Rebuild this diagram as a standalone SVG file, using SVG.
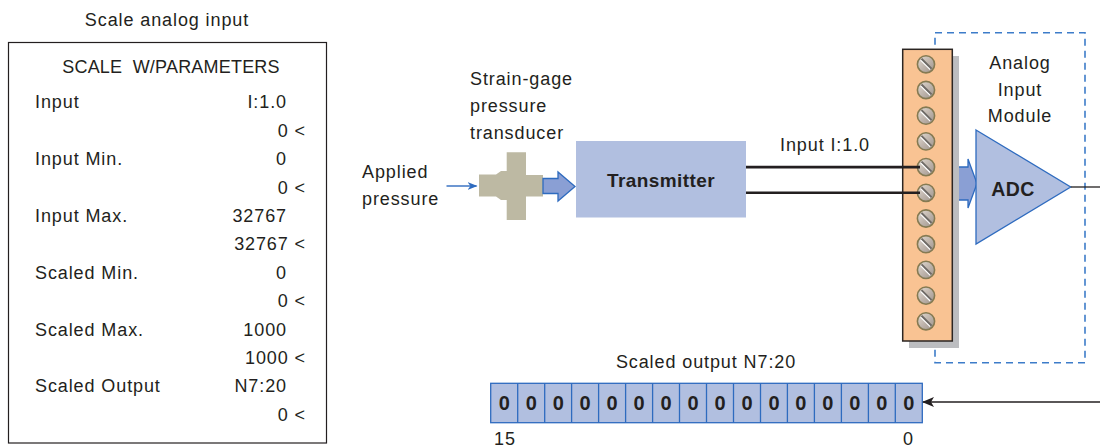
<svg xmlns="http://www.w3.org/2000/svg" width="1100" height="447" viewBox="0 0 1100 447">
  <style>
    text { font-family: "Liberation Sans", Arial, sans-serif; font-size: 18px; fill: #231f20; letter-spacing: 0.9px; }
    .b { font-weight: bold; letter-spacing: 0.4px; }
    .r { text-anchor: end; }
    .m { text-anchor: middle; }
    .bit { font-weight: bold; font-size: 20px; text-anchor: middle; letter-spacing: 0; }
    .blue { fill: #b1bfe0; stroke: #2e6bbf; stroke-width: 1.3; }
    .wire { stroke: #231f20; stroke-width: 2.6; fill: none; }
    .screw { fill: url(#screwFill); stroke: #857a52; stroke-width: 1.6; }
  </style>
  <defs>
    <linearGradient id="screwFill" x1="0" y1="0" x2="1" y2="1">
      <stop offset="0" stop-color="#e4ddd5"/>
      <stop offset="0.5" stop-color="#bfb5ad"/>
      <stop offset="1" stop-color="#9c928a"/>
    </linearGradient>
    <marker id="arrBlue" markerWidth="10" markerHeight="8" refX="9" refY="4" orient="auto" markerUnits="userSpaceOnUse">
      <path d="M0,0 L10,4 L0,8 L3,4 Z" fill="#2e6bbf"/>
    </marker>
    <marker id="arrBlack" markerWidth="12" markerHeight="10" refX="11" refY="5" orient="auto" markerUnits="userSpaceOnUse">
      <path d="M0,0 L12,5 L0,10 L3,5 Z" fill="#231f20"/>
    </marker>
    <g id="screw">
      <circle r="8.6" class="screw"/>
      <line x1="-4.6" y1="-5.4" x2="5.4" y2="4.6" stroke="#6e6a66" stroke-width="2.2"/>
      <line x1="-5.4" y1="-4.2" x2="4.2" y2="5.4" stroke="#ffffff" stroke-width="1.2"/>
    </g>
  </defs>

  <!-- Ladder instruction block -->
  <g id="scale-block">
    <text x="167" y="26" class="m">Scale analog input</text>
    <rect x="8.5" y="42.5" width="318" height="400.5" fill="#ffffff" stroke="#231f20" stroke-width="1.2"/>
    <text x="171" y="73" class="m" style="letter-spacing:0.2px">SCALE&#160; W/PARAMETERS</text>
    <text x="35" y="108.3">Input</text>
    <text x="287" y="108.3" class="r">I:1.0</text>
    <text x="306" y="136.7" class="r">0 &lt;</text>
    <text x="35" y="165.1">Input Min.</text>
    <text x="287" y="165.1" class="r">0</text>
    <text x="306" y="193.5" class="r">0 &lt;</text>
    <text x="35" y="221.9">Input Max.</text>
    <text x="287" y="221.9" class="r">32767</text>
    <text x="306" y="250.3" class="r">32767 &lt;</text>
    <text x="35" y="278.7">Scaled Min.</text>
    <text x="287" y="278.7" class="r">0</text>
    <text x="306" y="307.1" class="r">0 &lt;</text>
    <text x="35" y="335.5">Scaled Max.</text>
    <text x="287" y="335.5" class="r">1000</text>
    <text x="306" y="363.9" class="r">1000 &lt;</text>
    <text x="35" y="392.3">Scaled Output</text>
    <text x="287" y="392.3" class="r">N7:20</text>
    <text x="306" y="420.7" class="r">0 &lt;</text>
  </g>

  <!-- Pressure input -->
  <g id="applied-pressure">
    <text x="362" y="178.3">Applied</text>
    <text x="362" y="205.3">pressure</text>
  </g>

  <g id="transducer">
    <text x="470" y="85">Strain-gage</text>
    <text x="470" y="112">pressure</text>
    <text x="470" y="138.5">transducer</text>
    <polygon points="479,174.5 496,174.5 501,171 506.7,171 506.7,152.3 526,152.3 526,175 543,175 543,196.5 526,196.5 526,220 506.7,220 506.7,200 501,200 496,196.5 479,196.5" fill="#bdb9a3"/>
    <polygon points="543,178.5 558,178.5 558,172 575,186.5 558,201 558,193.5 543,193.5" fill="#8a9fd4" stroke="#2e6bbf" stroke-width="1.3"/>
  </g>

  <g id="transmitter">
    <rect x="576" y="141" width="170" height="76.5" fill="#b1bfe0"/>
    <text x="661" y="186.5" class="m b" style="font-size:19px">Transmitter</text>
  </g>

  <!-- Analog input module -->
  <g id="input-module">
    <rect x="935" y="32.7" width="150" height="330" fill="none" stroke="#3d7cc9" stroke-width="1.6" stroke-dasharray="7,5"/>
    <text x="1020" y="69.3" class="m">Analog</text>
    <text x="1020" y="95.5" class="m">Input</text>
    <text x="1020" y="121.7" class="m">Module</text>
    <polygon points="956,167 968,167 968,159 977,183.5 968,208 968,200 956,200" fill="#8a9fd4" stroke="#2e6bbf" stroke-width="1.3"/>
    <polygon points="976,130 1070.7,187 976,244" class="blue"/>
    <text x="1013" y="195.7" class="m b" style="font-size:19.5px">ADC</text>
  </g>

  <g id="terminal-strip">
    <rect x="909" y="56" width="50" height="292" fill="#bcbdc0"/>
    <rect x="902.7" y="49.3" width="49.6" height="291.7" fill="#f9c393" stroke="#2b2522" stroke-width="1.5"/>
    <use href="#screw" x="926" y="64.3"/>
    <use href="#screw" x="926" y="90"/>
    <use href="#screw" x="926" y="115.7"/>
    <use href="#screw" x="926" y="141.4"/>
    <use href="#screw" x="926" y="167.1"/>
    <use href="#screw" x="926" y="192.8"/>
    <use href="#screw" x="926" y="218.5"/>
    <use href="#screw" x="926" y="244.2"/>
    <use href="#screw" x="926" y="269.9"/>
    <use href="#screw" x="926" y="295.6"/>
    <use href="#screw" x="926" y="321.3"/>
  </g>

  <!-- Output register N7:20 -->
  <g id="output-register">
    <text x="706" y="368" class="m">Scaled output N7:20</text>
    <rect x="490.7" y="383.3" width="431.6" height="39.4" class="blue"/>
    <g stroke="#2e6bbf" stroke-width="1.3">
      <line x1="517.7" y1="383.3" x2="517.7" y2="422.7"/>
      <line x1="544.7" y1="383.3" x2="544.7" y2="422.7"/>
      <line x1="571.6" y1="383.3" x2="571.6" y2="422.7"/>
      <line x1="598.6" y1="383.3" x2="598.6" y2="422.7"/>
      <line x1="625.6" y1="383.3" x2="625.6" y2="422.7"/>
      <line x1="652.6" y1="383.3" x2="652.6" y2="422.7"/>
      <line x1="679.5" y1="383.3" x2="679.5" y2="422.7"/>
      <line x1="706.5" y1="383.3" x2="706.5" y2="422.7"/>
      <line x1="733.5" y1="383.3" x2="733.5" y2="422.7"/>
      <line x1="760.5" y1="383.3" x2="760.5" y2="422.7"/>
      <line x1="787.4" y1="383.3" x2="787.4" y2="422.7"/>
      <line x1="814.4" y1="383.3" x2="814.4" y2="422.7"/>
      <line x1="841.4" y1="383.3" x2="841.4" y2="422.7"/>
      <line x1="868.4" y1="383.3" x2="868.4" y2="422.7"/>
      <line x1="895.3" y1="383.3" x2="895.3" y2="422.7"/>
    </g>
    <g>
      <text x="504.2" y="410" class="bit">0</text>
      <text x="531.2" y="410" class="bit">0</text>
      <text x="558.2" y="410" class="bit">0</text>
      <text x="585.1" y="410" class="bit">0</text>
      <text x="612.1" y="410" class="bit">0</text>
      <text x="639.1" y="410" class="bit">0</text>
      <text x="666.1" y="410" class="bit">0</text>
      <text x="693.0" y="410" class="bit">0</text>
      <text x="720.0" y="410" class="bit">0</text>
      <text x="747.0" y="410" class="bit">0</text>
      <text x="774.0" y="410" class="bit">0</text>
      <text x="800.9" y="410" class="bit">0</text>
      <text x="827.9" y="410" class="bit">0</text>
      <text x="854.9" y="410" class="bit">0</text>
      <text x="881.9" y="410" class="bit">0</text>
      <text x="908.8" y="410" class="bit">0</text>
    </g>
    <text x="494" y="445">15</text>
    <text x="908.5" y="445" class="m">0</text>
  </g>

  <!-- Connectors -->
  <g id="connectors">
    <line x1="446.5" y1="186" x2="476.5" y2="186" stroke="#2e6bbf" stroke-width="1.4" marker-end="url(#arrBlue)"/>
    <line x1="746" y1="167.1" x2="920" y2="167.1" class="wire"/>
    <line x1="746" y1="192.8" x2="920" y2="192.8" class="wire"/>
    <text x="825" y="150.7" class="m">Input I:1.0</text>
    <line x1="1070.7" y1="187" x2="1100" y2="187" stroke="#231f20" stroke-width="1.3"/>
    <line x1="1100" y1="402" x2="923" y2="402" stroke="#231f20" stroke-width="1.5" marker-end="url(#arrBlack)"/>
  </g>
</svg>
